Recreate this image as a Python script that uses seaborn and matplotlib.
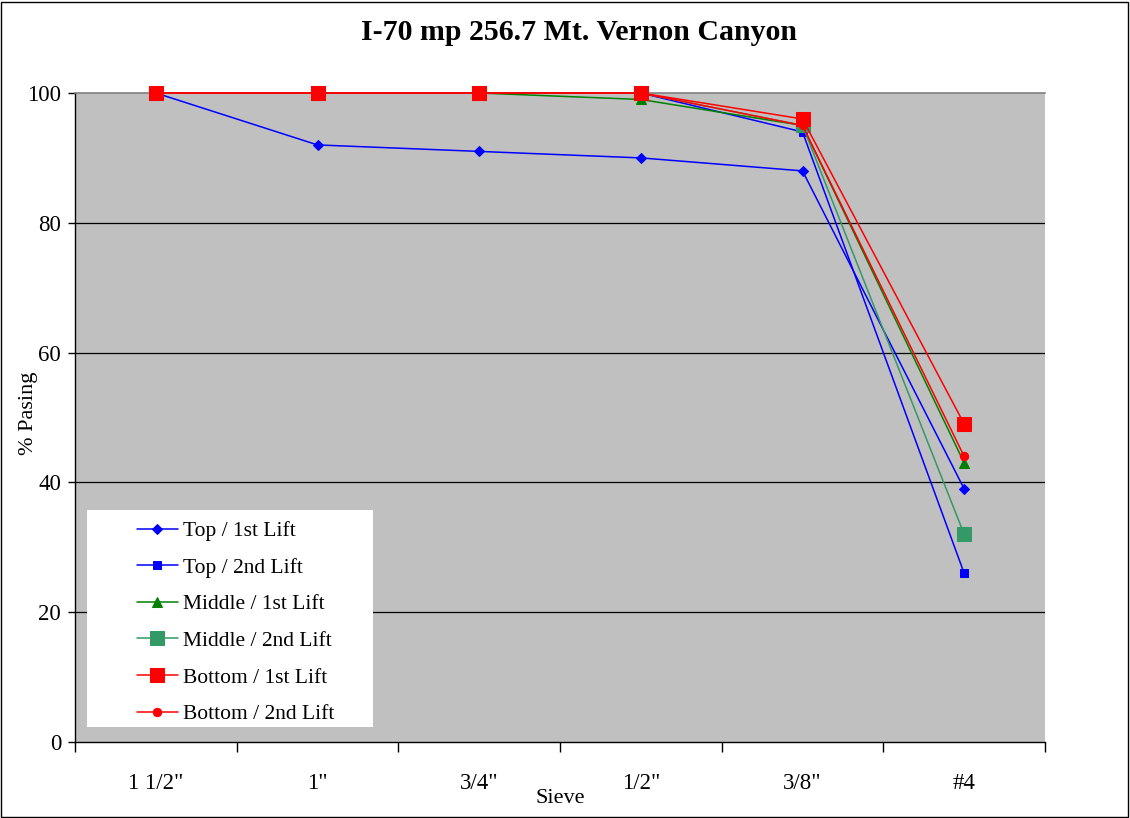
import matplotlib
matplotlib.use("Agg")
import matplotlib.pyplot as plt
import seaborn as sns
import pandas as pd

sieves = ['1 1/2"', '1"', '3/4"', '1/2"', '3/8"', '#4']
top_1st = [100, 92, 91, 90, 88, 39]
top_2nd = [100, 100, 100, 100, 94, 26]
middle_1st = [100, 100, 100, 99, 95, 43]
middle_2nd = [100, 100, 100, 100, 95, 32]
bottom_1st = [100, 100, 100, 100, 96, 49]
bottom_2nd = [100, 100, 100, 100, 95, 44]

series = [
    ("Top / 1st Lift", top_1st, "#0000FF", "D", 5),
    ("Top / 2nd Lift", top_2nd, "#0000FF", "s", 6),
    ("Middle / 1st Lift", middle_1st, "#008000", "^", 7),
    ("Middle / 2nd Lift", middle_2nd, "#339966", "s", 10),
    ("Bottom / 1st Lift", bottom_1st, "#FF0000", "s", 10),
    ("Bottom / 2nd Lift", bottom_2nd, "#FF0000", "o", 6),
]

sns.set_style("white")
plt.rcParams['font.family'] = ['Liberation Serif', 'DejaVu Serif']
plt.rcParams['text.color'] = 'black'
plt.rcParams['axes.labelcolor'] = 'black'
plt.rcParams['xtick.color'] = 'black'
plt.rcParams['ytick.color'] = 'black'

W, H = 1130, 818
L, R, T, B = 75, 1045, 93, 742
fig = plt.figure(figsize=(W/100, H/100), dpi=100)
ax = fig.add_axes([L/W, 1-B/H, (R-L)/W, (B-T)/H])
ax.set_facecolor("#C0C0C0")

for name, vals, color, marker, ms in series:
    df = pd.DataFrame({"x": range(len(sieves)), "y": vals})
    sns.lineplot(data=df, x="x", y="y", ax=ax, color=color, marker=marker,
                 markersize=ms, markeredgecolor=color, markerfacecolor=color,
                 linewidth=1.1, label=name, clip_on=False, zorder=3)

ax.set_xlim(-0.5, 5.5)
ax.set_ylim(0, 100)
ax.set_yticks([0, 20, 40, 60, 80, 100])
ax.set_yticklabels(["0", "20", "40", "60", "80", "100"], fontsize=16.5)
ax.set_xticks([i + 0.5 for i in range(-1, 6)], minor=False)
ax.set_xticklabels([])
ax.set_xticks(range(len(sieves)), minor=True)
ax.set_xticklabels(sieves, minor=True, fontsize=16.5)
ax.tick_params(axis='x', which='minor', bottom=True, length=0, pad=22)
ax.tick_params(axis='x', which='major', bottom=True, length=7, width=1, color='black', direction='out')
ax.tick_params(axis='y', which='major', left=True, length=5, width=1, color='black', direction='out', pad=5)
for y in [20, 40, 60, 80]:
    ax.axhline(y, color='black', linewidth=0.9, zorder=1)
ax.grid(False)

for s in ['left', 'bottom']:
    ax.spines[s].set_color('black')
    ax.spines[s].set_linewidth(1)
ax.spines['top'].set_color('#808080')
ax.spines['top'].set_linewidth(1.2)
ax.spines['right'].set_visible(False)

ax.set_xlabel("Sieve", fontsize=16)
ax.xaxis.set_label_coords(0.5, -(789 - B) / (B - T))
ax.set_ylabel("% Pasing", fontsize=16)
ax.yaxis.set_label_coords((38 - L) / (R - L), (B - 413) / (B - T))
fig.text(579/W, 1 - 32/H, "I-70 mp 256.7 Mt. Vernon Canyon", fontsize=21.5,
         fontweight='bold', ha='center', va='center')

# legend background box
ax.add_patch(plt.Rectangle(((87 - L) / (R - L) * 6 - 0.5, (B - 727) / (B - T) * 100),
                           (373 - 87) / (R - L) * 6, (727 - 510) / (B - T) * 100,
                           facecolor='white', edgecolor='none', zorder=4, clip_on=False))
leg = ax.legend(loc='upper left', bbox_to_anchor=((137 - L) / (R - L), (B - 521) / (B - T)),
                frameon=False, fontsize=15.5, labelspacing=0.77,
                handlelength=1.9, borderpad=0, handletextpad=0.25, borderaxespad=0)
leg.set_zorder(5)

fig.patches.append(plt.Rectangle((0.001, 0.001), 0.997, 0.997, transform=fig.transFigure,
                                 fill=False, edgecolor='black', linewidth=1))
fig.savefig("out.png", dpi=100)
